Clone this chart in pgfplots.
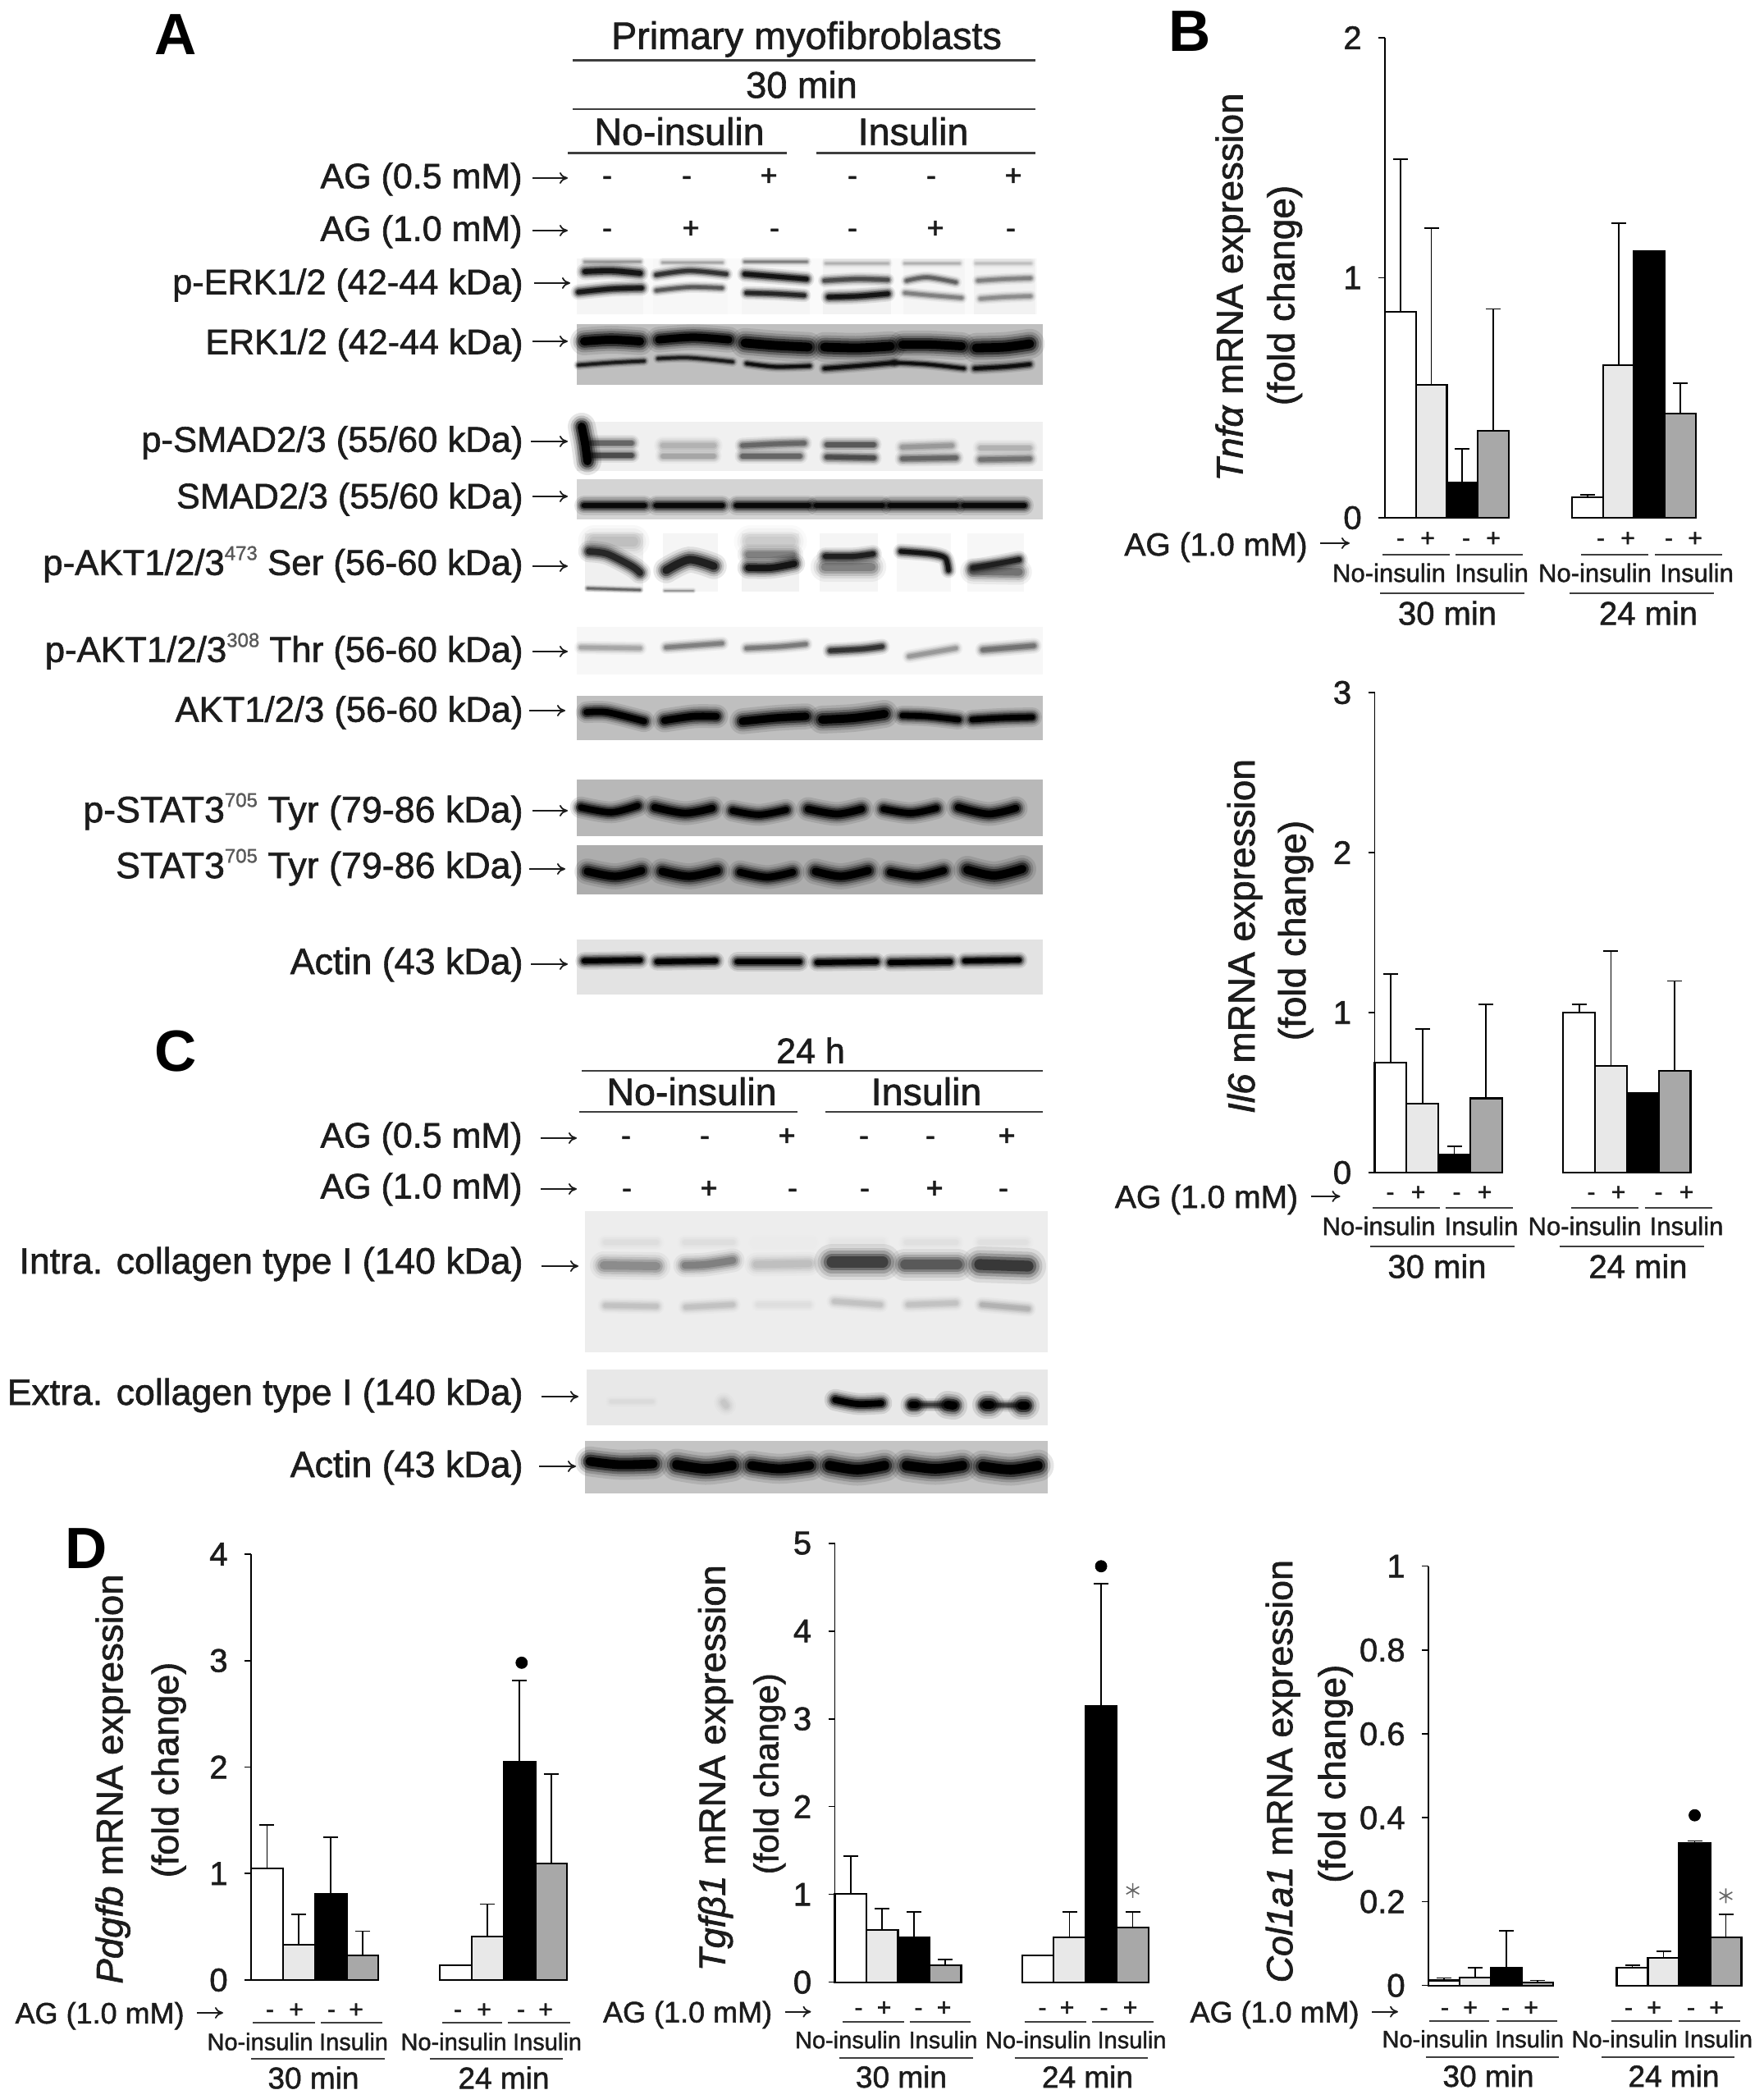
\documentclass[border=0pt]{standalone}
\usepackage{fontspec}
\setmainfont{Liberation Sans}[FakeBold=1.4,ItalicFeatures={FakeBold=1.4}]
\newfontfamily\plainsans{Liberation Sans}
\newcommand\heavy{\plainsans\bfseries}
\usepackage{pgfplots}
\pgfplotsset{compat=1.18}
\usetikzlibrary{arrows.meta}

\definecolor{ink}{HTML}{1C1C1C}
\definecolor{barlight}{HTML}{E8E8E8}
\definecolor{bargray}{HTML}{A8A8A8}

\newcommand\fs[1]{\fontsize{#1}{#1}\selectfont}
% blot helpers, all coordinates are image pixels
\newcommand\blot[5]{\addplot[draw=none,fill=black!#5] coordinates {(#1,#3)(#2,#3)(#2,#4)(#1,#4)} --cycle;}
\newcommand\band[3]{%
  \addplot[black!#2,opacity=.10,line width={2.5*#1+2},line cap=round,smooth] coordinates {#3};
  \addplot[black!#2,opacity=.16,line width={2.0*#1+1.5},line cap=round,smooth] coordinates {#3};
  \addplot[black!#2,opacity=.28,line width={1.6*#1+1},line cap=round,smooth] coordinates {#3};
  \addplot[black!#2,opacity=.50,line width={1.2*#1+.6},line cap=round,smooth] coordinates {#3};
  \addplot[black!#2,line width={.8*#1+.2},line cap=round,smooth] coordinates {#3};
}
% text helpers
\newcommand\T[5]{\node[anchor=#1,inner sep=0pt,text=ink,font=\fs{#4}] at (#2,{#3+0.72*#4}) {#5};}
\newcommand\R[4]{\node[rotate=90,anchor=base,inner sep=0pt,text=ink,font=\fs{#3}] at ({#1+0.72*#3},#2) {#4};}
\newcommand\arr[3]{\draw[ink,line width=.9pt,-{To[length=5pt,width=7pt]}] (#1,#3)--(#2,#3);}
\newcommand\rl[3]{\draw[ink!85,line width=1.1pt] (#1,#3)--(#2,#3);}
\newcommand\sups[1]{\raisebox{.42em}{\fs{12}\textcolor{black!65}{#1}}}

\pgfplotsset{
  fold/.style={
    scale only axis,anchor=south west,clip=false,
    xmin=0,xmax=11,ymin=0,
    axis y line*=left,axis x line=none,xtick=\empty,
    tick align=outside,major tick length=4pt,
    axis line style={black,line width=.8pt},
    tick style={black,line width=.8pt},
    yticklabel style={font=\fs{20},text=ink,inner sep=0pt,xshift=-10pt},
    /pgf/number format/assume math mode=true,
    scaled y ticks=false,
  },
  fb/.style={
    ybar,bar width=1,bar shift=0pt,draw=black,line width=1.1pt,fill=#1,
    error bars/.cd,y dir=plus,y explicit,
    error bar style={black,line width=.9pt},
    error mark options={black,mark size=4.5pt,line width=.9pt,rotate=90},
  },
  dot/.style={only marks,mark=*,mark size=3.5pt,black},
  aster/.style={only marks,mark=asterisk,mark size=4.5pt,black!60,mark options={line width=.8pt}},
}

\begin{document}
\begin{tikzpicture}
\path[use as bounding box] (0,0) rectangle (1075pt,1279pt);

\begin{axis}[at={(0,0)},anchor=south west,scale only axis,width=1075pt,height=1279pt,
  xmin=0,xmax=2150,ymin=0,ymax=2558,y dir=reverse,hide axis,clip=false]
% p-ERK
\blot{703}{1264}{315}{383}{2}
\blot{703}{784}{315}{383}{4}\blot{796}{887}{315}{383}{3}\blot{904}{987}{315}{383}{4}
\blot{1003}{1086}{315}{383}{5}\blot{1101}{1176}{315}{383}{4}\blot{1187}{1262}{315}{383}{5}
\band{1.5}{40}{(713,319)(780,319)}\band{1.5}{35}{(808,320)(880,320)}\band{1.5}{50}{(908,319)(983,319)}
\band{1.5}{30}{(1007,321)(1082,321)}\band{1.5}{30}{(1103,321)(1169,321)}\band{1.5}{25}{(1190,321)(1256,321)}
\band{3.4}{92}{(713,331)(745,330)(780,333)}\band{2.4}{80}{(800,335)(840,330)(885,334)}
\band{3}{92}{(908,334)(945,337)(983,340)}\band{2.4}{70}{(1005,342)(1045,340)(1082,341)}
\band{2}{62}{(1105,342)(1130,338)(1165,344)}\band{2}{50}{(1192,342)(1225,340)(1256,339)}
\band{3}{90}{(705,356)(745,352)(782,351)}\band{2}{65}{(800,354)(840,350)(880,351)}
\band{2.5}{85}{(910,357)(945,358)(980,360)}\band{3}{92}{(1010,362)(1045,361)(1082,358)}
\band{2}{50}{(1103,357)(1135,360)(1172,363)}\band{2}{45}{(1195,364)(1225,362)(1256,361)}
% ERK
\blot{703}{1271}{395}{469}{25}
\band{6}{100}{(712,416)(745,414)(780,416)}\band{5.5}{100}{(803,414)(845,411)(888,414)}
\band{6.5}{100}{(908,418)(945,421)(985,423)}\band{6.5}{100}{(1005,423)(1045,424)(1085,422)}
\band{6}{100}{(1100,420)(1135,420)(1172,422)}\band{6.5}{100}{(1190,424)(1225,423)(1255,419)}
\band{1.6}{90}{(705,445)(745,442)(785,440)}\band{1.6}{90}{(802,437)(840,436)(893,441)}
\band{1.8}{95}{(910,443)(945,447)(987,446)}\band{2.2}{95}{(1005,449)(1045,446)(1090,442)}
\band{1.8}{95}{(1090,442)(1130,444)(1175,449)}\band{2.2}{95}{(1188,449)(1225,447)(1255,444)}
% p-SMAD
\blot{703}{1271}{514}{574}{6}
\band{3}{60}{(720,540)(770,540)}\band{3}{70}{(720,555)(770,555)}
\band{6}{100}{(709,520)(713,540)(716,562)}
\band{3.5}{30}{(808,543)(870,543)}\band{3}{35}{(808,556)(870,556)}
\band{3}{60}{(905,543)(945,541)(980,540)}\band{3}{60}{(905,556)(975,556)}
\band{3}{65}{(1008,542)(1065,542)}\band{3}{70}{(1008,557)(1065,558)}
\band{3}{40}{(1100,545)(1160,543)}\band{3}{60}{(1100,559)(1165,558)}
\band{3}{30}{(1195,546)(1255,546)}\band{3}{55}{(1195,560)(1255,559)}
% SMAD
\blot{703}{1271}{584}{633}{17}
\band{4}{97}{(712,616)(785,616)}\band{4}{97}{(800,616)(880,616)}\band{4}{97}{(898,616)(985,616)}
\band{4}{97}{(995,616)(1075,616)}\band{4}{97}{(1085,616)(1165,616)}\band{4}{97}{(1175,616)(1248,616)}
% p-AKT 473
\blot{713}{784}{650}{721}{6}\blot{808}{875}{650}{721}{4}\blot{904}{974}{650}{721}{5}
\blot{999}{1070}{650}{721}{4}\blot{1093}{1159}{650}{721}{3}\blot{1179}{1248}{650}{721}{3}
\band{7}{25}{(724,660)(772,660)}\band{4.5}{85}{(718,672)(740,675)(770,690)(780,698)}\band{1}{60}{(716,717)(780,719)}
\band{5.5}{88}{(812,695)(840,682)(870,690)}\band{.6}{40}{(810,720)(845,720)}
\band{7}{20}{(914,660)(964,660)}\band{4.5}{50}{(912,676)(966,676)}\band{4.5}{92}{(912,692)(940,692)(968,687)}
\band{6.5}{50}{(1006,691)(1062,691)}\band{3.5}{88}{(1006,678)(1040,678)(1064,675)}
\band{3}{92}{(1098,672)(1135,675)(1152,680)(1156,695)}
\band{5.5}{55}{(1186,696)(1242,697)}\band{3.5}{88}{(1186,692)(1210,688)(1242,682)}
% p-AKT 308
\blot{703}{1271}{764}{822}{3}
\band{2.5}{35}{(708,789)(780,790)}\band{2.5}{50}{(812,789)(880,784)}\band{2.5}{52}{(910,790)(950,788)(982,785)}
\band{3}{80}{(1012,793)(1050,791)(1075,788)}\band{2.5}{40}{(1108,800)(1165,790)}\band{3}{55}{(1198,792)(1260,787)}
% AKT
\blot{703}{1271}{848}{902}{25}
\band{4.5}{100}{(715,868)(740,868)(785,879)}\band{5}{100}{(810,878)(845,873)(873,873)}
\band{5.5}{100}{(905,879)(945,875)(982,873)}\band{6}{100}{(1002,877)(1040,875)(1078,870)}
\band{4}{100}{(1100,872)(1130,873)(1168,877)}\band{4}{100}{(1185,877)(1220,875)(1258,874)}
% p-STAT
\blot{703}{1271}{950}{1019}{28}
\band{4.5}{100}{(708,984)(745,990)(777,982)}\band{5}{100}{(798,984)(835,991)(868,985)}
\band{4.5}{100}{(893,988)(925,993)(958,987)}\band{5}{100}{(985,986)(1020,992)(1050,986)}
\band{4.5}{100}{(1077,986)(1110,991)(1141,985)}\band{5}{100}{(1168,984)(1205,992)(1238,985)}
% STAT
\blot{703}{1271}{1030}{1090}{32}
\band{5.5}{100}{(716,1062)(750,1068)(782,1061)}\band{5.5}{100}{(807,1062)(840,1068)(874,1061)}
\band{5}{100}{(902,1063)(935,1069)(966,1063)}\band{5.5}{100}{(994,1062)(1025,1068)(1058,1061)}
\band{5}{100}{(1085,1063)(1118,1068)(1150,1061)}\band{6}{100}{(1179,1060)(1212,1067)(1246,1059)}
% Actin A
\blot{703}{1271}{1145}{1212}{11}
\band{3.5}{100}{(712,1171)(780,1170)}\band{3.5}{100}{(801,1172)(872,1171)}\band{4}{100}{(899,1172)(974,1172)}
\band{3.5}{100}{(996,1173)(1068,1172)}\band{3.5}{100}{(1085,1173)(1158,1172)}\band{3.3}{100}{(1176,1171)(1242,1170)}
% panel C, intracellular
\blot{713}{1277}{1476}{1648}{7}
\band{3}{13}{(738,1514)(800,1514)}\band{3}{13}{(835,1514)(893,1514)}\band{3}{8}{(922,1514)(988,1514)}\band{3}{10}{(1015,1514)(1075,1514)}
\band{3}{12}{(1105,1514)(1165,1514)}\band{3}{12}{(1195,1514)(1250,1514)}
\band{6}{45}{(736,1542)(800,1543)}\band{5}{50}{(835,1542)(860,1541)(893,1536)}\band{5}{25}{(922,1541)(986,1540)}
\band{8}{75}{(1014,1538)(1076,1538)}\band{7}{65}{(1103,1541)(1167,1541)}\band{8}{78}{(1194,1541)(1253,1543)}
\band{3}{24}{(738,1591)(800,1592)}\band{3}{24}{(836,1593)(893,1590)}\band{2.5}{13}{(924,1590)(986,1590)}
\band{3}{24}{(1017,1586)(1073,1590)}\band{3}{24}{(1107,1590)(1165,1588)}\band{3}{30}{(1197,1590)(1253,1595)}
% extracellular
\blot{715}{1277}{1669}{1737}{9}
\band{4}{22}{(882,1709)(885,1713)}\band{2}{14}{(745,1708)(795,1708)}
\band{4.5}{100}{(1018,1706)(1045,1711)(1074,1710)}
\band{2.5}{75}{(1110,1712)(1165,1712)}\band{5}{100}{(1112,1712)(1116,1712)}\band{6}{100}{(1155,1712)(1162,1713)}
\band{2.5}{75}{(1197,1712)(1252,1713)}\band{6}{100}{(1202,1712)(1207,1712)}\band{6}{100}{(1245,1713)(1250,1713)}
% actin C
\blot{713}{1277}{1756}{1820}{23}
\band{6.5}{100}{(719,1781)(755,1785)(796,1784)}\band{7}{100}{(825,1785)(860,1790)(892,1786)}
\band{6.5}{100}{(916,1786)(950,1790)(987,1786)}\band{7}{100}{(1011,1786)(1045,1791)(1078,1786)}
\band{7}{100}{(1105,1786)(1140,1790)(1173,1786)}\band{7}{100}{(1198,1787)(1232,1791)(1265,1786)}
\end{axis}

\begin{scope}[x=.5pt,y=-.5pt,yshift=1279pt]
% panel letters
\node[font=\heavy\fs{35.5},text=black] at (214,42) {A};
\node[font=\heavy\fs{35.5},text=black] at (1450,38) {B};
\node[font=\heavy\fs{35.5},text=black] at (214,1281) {C};
\node[font=\heavy\fs{35.5},text=black] at (105,1887) {D};
% panel A header
\T{base}{983}{43}{23.4}{Primary myofibroblasts}
\rl{698}{1262}{73.5}
\T{base}{977}{103}{22.6}{30 min}
\rl{698}{1262}{133}
\T{base}{828}{160}{23.3}{No-insulin}
\T{base}{1113}{160}{23.3}{Insulin}
\rl{692}{959}{186.5}\rl{995}{1262}{186.5}
\T{base east}{637}{214}{21.5}{AG (0.5 mM)}\arr{649}{692}{217}
\T{base east}{637}{278}{21.5}{AG (1.0 mM)}\arr{649}{692}{281}
\foreach \x/\s in {740/-,837/-,937/+,1039/-,1135/-,1235/+} {\T{base}{\x}{213}{18}{\s}}
\foreach \x/\s in {740/-,842/+,944/-,1039/-,1140/+,1232/-} {\T{base}{\x}{277}{18}{\s}}
% panel A labels
\T{base east}{638}{343}{21.6}{p-ERK1/2 (42-44 kDa)}\arr{651}{695}{345}
\T{base east}{638}{416}{21.5}{ERK1/2 (42-44 kDa)}\arr{649}{692}{416}
\T{base east}{638}{535}{21.8}{p-SMAD2/3 (55/60 kDa)}\arr{647}{692}{538}
\T{base east}{638}{604}{21.6}{SMAD2/3 (55/60 kDa)}\arr{649}{692}{605}
\T{base east}{638}{685}{21.9}{p-AKT1/2/3\sups{473} Ser (56-60 kDa)}\arr{649}{692}{690}
\T{base east}{638}{791}{21.9}{p-AKT1/2/3\sups{308} Thr (56-60 kDa)}\arr{649}{692}{794}
\T{base east}{638}{864}{21.8}{AKT1/2/3 (56-60 kDa)}\arr{645}{689}{866}
\T{base east}{638}{986}{22.4}{p-STAT3\sups{705} Tyr (79-86 kDa)}\arr{649}{692}{988}
\T{base east}{638}{1054}{22.4}{STAT3\sups{705} Tyr (79-86 kDa)}\arr{645}{689}{1059}
\T{base east}{638}{1171}{22.4}{Actin (43 kDa)}\arr{647}{692}{1175}
% panel C
\T{base}{988}{1280}{21.5}{24 h}
\rl{709}{1271}{1305}
\T{base}{843}{1330}{23.3}{No-insulin}
\T{base}{1129}{1330}{23.3}{Insulin}
\rl{706}{972}{1355}\rl{1006}{1271}{1355}
\T{base east}{637}{1383}{21.5}{AG (0.5 mM)}\arr{659}{703}{1387}
\T{base east}{637}{1445}{21.5}{AG (1.0 mM)}\arr{659}{703}{1449}
\foreach \x/\s in {763/-,859/-,959/+,1053/-,1134/-,1227/+} {\T{base}{\x}{1383}{18}{\s}}
\foreach \x/\s in {764/-,864/+,966/-,1054/-,1139/+,1223/-} {\T{base}{\x}{1447}{18}{\s}}
\T{base east}{638}{1536}{22.3}{Intra. collagen type I (140 kDa)}\arr{660}{705}{1543}
\T{base east}{638}{1696}{22.3}{Extra. collagen type I (140 kDa)}\arr{660}{705}{1702}
\T{base east}{638}{1784}{22.4}{Actin (43 kDa)}\arr{657}{702}{1787}

% panel B, Tnfa
\begin{scope}[shift={(1688,631)}]
\T{base east}{-94}{32}{19.5}{AG (1.0 mM)}\arr{-79}{-43}{31}
\foreach \x/\s in {19/-,52/+,99/-,132/+,263/-,296/+,346/-,378/+} {\T{base}{\x}{24}{15}{\s}}
\rl{-3}{79}{45}\rl{86}{168}{45}\rl{239}{321}{45}\rl{329}{411}{45}
\T{base}{5}{67}{15.5}{No-insulin}\T{base}{130}{67}{15.5}{Insulin}
\T{base}{256}{67}{15.5}{No-insulin}\T{base}{380}{67}{15.5}{Insulin}
\rl{-6}{170}{92}\rl{225}{401}{92}
\T{base}{76}{116}{20}{30 min}\T{base}{321}{116}{20}{24 min}
\R{-190}{-281}{22.8}{\textit{Tnfα} mRNA expression}
\R{-127}{-271}{23}{(fold change)}
\end{scope}
% panel B, Il6
\begin{scope}[shift={(1675.5,1429)}]
\T{base east}{-93}{29}{19.5}{AG (1.0 mM)}\arr{-78}{-42}{29}
\foreach \x/\s in {19/-,53/+,100/-,134/+,264/-,297/+,346/-,380/+} {\T{base}{\x}{23}{15}{\s}}
\rl{-3}{79}{43}\rl{86}{168}{43}\rl{239}{321}{43}\rl{329}{411}{43}
\T{base}{5}{65}{15.5}{No-insulin}\T{base}{130}{65}{15.5}{Insulin}
\T{base}{256}{65}{15.5}{No-insulin}\T{base}{380}{65}{15.5}{Insulin}
\rl{-6}{170}{90}\rl{225}{401}{90}
\T{base}{76}{114}{20}{30 min}\T{base}{321}{114}{20}{24 min}
\R{-163}{-288}{23}{\textit{Il6} mRNA expression}
\R{-101}{-295}{23}{(fold change)}
\end{scope}
% panel D, Pdgfb
\begin{scope}[shift={(306,2413)}]
\T{base east}{-81}{40}{18}{AG (1.0 mM)}\arr{-66}{-34}{40}
\foreach \x/\s in {23/-,55/+,98/-,128/+,252/-,284/+,329/-,359/+} {\T{base}{\x}{35}{15}{\s}}
\rl{2}{78}{52}\rl{85}{160}{52}\rl{233}{306}{52}\rl{313}{389}{52}
\T{base}{11}{75}{14.5}{No-insulin}\T{base}{125}{75}{14.5}{Insulin}
\T{base}{247}{75}{14.5}{No-insulin}\T{base}{361}{75}{14.5}{Insulin}
\rl{0}{163}{96}\rl{218}{380}{96}
\T{base}{76}{119}{18.5}{30 min}\T{base}{308}{119}{18.5}{24 min}
\R{-173}{-245}{22.8}{\textit{Pdgfb} mRNA expression}
\R{-105}{-256}{22.5}{(fold change)}
\end{scope}
% panel D, Tgfb1
\begin{scope}[shift={(1017.5,2415.7)}]
\T{base east}{-76}{36}{18}{AG (1.0 mM)}\arr{-61}{-29}{36}
\foreach \x/\s in {29/-,60/+,102/-,133/+,253/-,283/+,328/-,360/+} {\T{base}{\x}{30}{15}{\s}}
\rl{9}{84}{48}\rl{91}{165}{48}\rl{231}{306}{48}\rl{313}{388}{48}
\T{base}{16}{70}{14.5}{No-insulin}\T{base}{132}{70}{14.5}{Insulin}
\T{base}{248}{70}{14.5}{No-insulin}\T{base}{362}{70}{14.5}{Insulin}
\rl{5.5}{168.5}{92}\rl{219}{381}{92}
\T{base}{81}{115}{18.5}{30 min}\T{base}{308}{115}{18.5}{24 min}
\R{-150}{-261}{22.7}{\textit{Tgfβ1} mRNA expression}
\R{-84}{-254}{21}{(fold change)}
\end{scope}
% panel D, Col1a1
\begin{scope}[shift={(1741,2419.7)}]
\T{base east}{-84}{32}{18}{AG (1.0 mM)}\arr{-69}{-37}{32}
\foreach \x/\s in {20/-,51/+,94/-,125/+,244/-,275/+,320/-,351/+} {\T{base}{\x}{26}{15}{\s}}
\rl{1}{74}{43}\rl{83}{157}{43}\rl{223}{297}{43}\rl{305}{380}{43}
\T{base}{8}{65}{14.5}{No-insulin}\T{base}{123}{65}{14.5}{Insulin}
\T{base}{239}{65}{14.5}{No-insulin}\T{base}{353}{65}{14.5}{Insulin}
\rl{-3}{159}{87}\rl{211}{373}{87}
\T{base}{73}{110}{18.5}{30 min}\T{base}{299}{110}{18.5}{24 min}
\R{-182}{-261}{22.4}{\textit{Col1a1} mRNA expression}
\R{-118}{-258}{22.8}{(fold change)}
\end{scope}
\end{scope}

% Tnfa
\begin{axis}[fold,at={(844pt,963.5pt)},width=207.4pt,height=292.5pt,ymax=2,ytick={0,1,2}]
\addplot[black,line width=.8pt] coordinates {(0,0)(4,0)};
\addplot[fb=white] coordinates {(0.5,0.858) +- (0,0.636) (6.55,0.085) +- (0,0.011)};
\addplot[fb=barlight] coordinates {(1.5,0.553) +- (0,0.654) (7.55,0.635) +- (0,0.593)};
\addplot[fb=black] coordinates {(2.5,0.148) +- (0,0.140) (8.55,1.111) +- (0,0)};
\addplot[fb=bargray] coordinates {(3.5,0.361) +- (0,0.509) (9.55,0.434) +- (0,0.127)};
\end{axis}
% Il6
\begin{axis}[fold,at={(837.75pt,564.5pt)},width=213.4pt,height=292.5pt,ymax=3,ytick={0,1,2,3}]
\addplot[black,line width=.8pt] coordinates {(0,0)(4,0)};
\addplot[fb=white] coordinates {(0.5,0.686) +- (0,0.556) (6.42,1.0) +- (0,0.053)};
\addplot[fb=barlight] coordinates {(1.5,0.43) +- (0,0.466) (7.42,0.668) +- (0,0.718)};
\addplot[fb=black] coordinates {(2.5,0.11) +- (0,0.052) (8.42,0.495) +- (0,0)};
\addplot[fb=bargray] coordinates {(3.5,0.464) +- (0,0.589) (9.42,0.634) +- (0,0.563)};
\end{axis}
% Pdgfb
\begin{axis}[fold,at={(153pt,72.5pt)},width=213.4pt,height=259.5pt,ymax=4,ytick={0,1,2,3,4}]
\addplot[black,line width=.8pt] coordinates {(0,0)(4,0)};
\addplot[fb=white] coordinates {(0.5,1.05) +- (0,0.404) (6.43,0.139) +- (0,0)};
\addplot[fb=barlight] coordinates {(1.5,0.33) +- (0,0.286) (7.43,0.407) +- (0,0.306)};
\addplot[fb=black] coordinates {(2.5,0.807) +- (0,0.532) (8.43,2.049) +- (0,0.765)};
\addplot[fb=bargray] coordinates {(3.5,0.233) +- (0,0.226) (9.43,1.096) +- (0,0.838)};
\addplot[dot] coordinates {(8.5,2.98)};
\end{axis}
% Tgfb1
\begin{axis}[fold,at={(508.75pt,71.15pt)},width=211.75pt,height=267.5pt,ymax=5,ytick={0,1,2,3,4,5}]
\addplot[black,line width=.8pt] coordinates {(0,0)(4,0)};
\addplot[fb=white] coordinates {(0.5,1.004) +- (0,0.435) (6.43,0.308) +- (0,0)};
\addplot[fb=barlight] coordinates {(1.5,0.595) +- (0,0.24) (7.43,0.51) +- (0,0.29)};
\addplot[fb=black] coordinates {(2.5,0.51) +- (0,0.29) (8.43,3.148) +- (0,1.388)};
\addplot[fb=bargray] coordinates {(3.5,0.19) +- (0,0.067) (9.43,0.624) +- (0,0.176)};
\addplot[dot] coordinates {(8.43,4.738)};
\addplot[aster] coordinates {(9.43,1.046)};
\end{axis}
% Col1a1
\begin{axis}[fold,at={(870.5pt,69.15pt)},width=209pt,height=255.5pt,ymax=1,ytick={0,0.2,0.4,0.6,0.8,1}]
\addplot[black,line width=.8pt] coordinates {(0,0)(4,0)};
\addplot[fb=white] coordinates {(0.5,0.012) +- (0,0.006) (6.54,0.043) +- (0,0.005)};
\addplot[fb=barlight] coordinates {(1.5,0.019) +- (0,0.024) (7.54,0.066) +- (0,0.015)};
\addplot[fb=black] coordinates {(2.5,0.043) +- (0,0.087) (8.54,0.34) +- (0,0.005)};
\addplot[fb=bargray] coordinates {(3.5,0.007) +- (0,0.005) (9.54,0.115) +- (0,0.055)};
\addplot[dot] coordinates {(8.54,0.406)};
\addplot[aster] coordinates {(9.54,0.214)};
\end{axis}
\end{tikzpicture}
\end{document}
